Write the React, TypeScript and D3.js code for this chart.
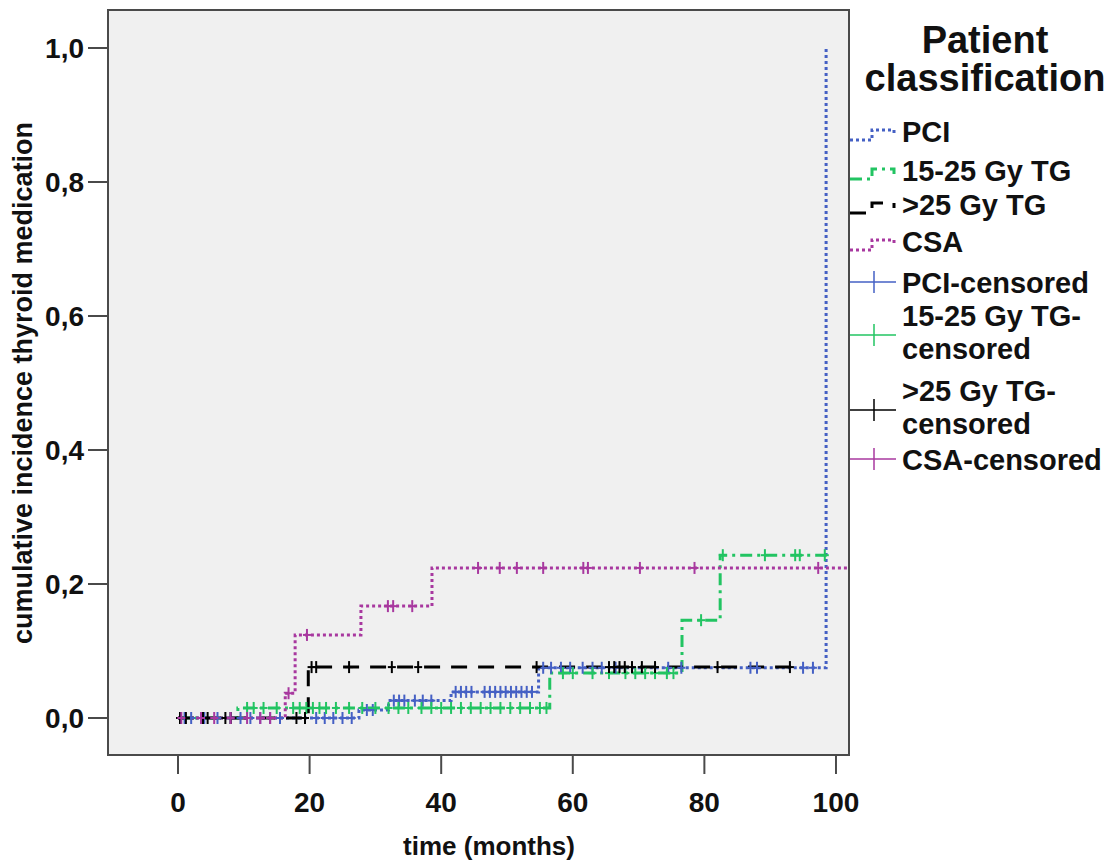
import React from 'react'
import * as d3 from 'd3'

// Kaplan-Meier style cumulative incidence
const seriesNames = ['PCI', '15-25 Gy TG', '>25 Gy TG', 'CSA']

const pciStepTimes = [0, 27.5, 32, 41.5, 54.8, 98.5]
const pciStepValues = [0, 0.012, 0.026, 0.039, 0.075, 1.0]
const pciEnd = 98.5
const pciCensored = [1, 2, 4, 6, 8, 9.5, 11, 12.5, 14, 15.5, 21, 22.3, 23.6, 25, 26.4, 28.7, 29.6, 32.8, 33.6, 34.4, 36, 37.2, 38.5, 42.2, 43, 43.8, 44.6, 46.6, 47.4, 48.2, 49, 49.8, 50.6, 51.4, 52.2, 53, 53.8, 55.5, 56.7, 58.2, 59.6, 61.5, 63, 64.4, 66.5, 74.5, 76.5, 87, 88, 95, 96.5]

const tgLowStepTimes = [0, 9.1, 56.5, 76.6, 82.4]
const tgLowStepValues = [0, 0.015, 0.067, 0.146, 0.243]
const tgLowEnd = 98.6
const tgLowCensored = [10.5, 11.5, 13, 15, 17.5, 18.5, 19.5, 20.5, 21.5, 22.5, 24, 26, 28, 30, 32, 33.5, 35, 37, 38.5, 40, 41.5, 43, 44.5, 46, 47.5, 49, 50.5, 52, 53.5, 55, 56, 58.5, 60, 63, 65.5, 68, 69.5, 71, 72.5, 74.3, 75.3, 79.5, 82.8, 89.2, 93.8, 94.5, 98.3]

const tgHighStepTimes = [0, 19.8]
const tgHighStepValues = [0, 0.076]
const tgHighEnd = 94
const tgHighCensored = [0.3, 1.2, 3.8, 4.5, 7.2, 8, 18, 19.3, 20.3, 21, 26, 32.5, 36.5, 54.5, 65.5, 66.3, 67.1, 67.9, 69, 70.5, 72.5, 82, 93]

const csaStepTimes = [0, 16.3, 17.8, 27.8, 38.6]
const csaStepValues = [0, 0.037, 0.124, 0.167, 0.224]
const csaEnd = 102
const csaCensored = [0.5, 3.5, 5.5, 8, 10.5, 12.5, 14, 16.8, 19.6, 31.9, 32.7, 35.6, 45.6, 48.9, 51.5, 55.5, 61.6, 62.3, 70.2, 78.5, 97.3]

const xTicks = [0, 20, 40, 60, 80, 100]
const yTicks = [0, 0.2, 0.4, 0.6, 0.8, 1.0]

const colors = ['#4560c4', '#22c462', '#000000', '#a8389f']
const dashes = ['3,3', '12,5,3,5', '16,11', '3,3']

const series = [
  { times: pciStepTimes, values: pciStepValues, end: pciEnd, censored: pciCensored },
  { times: tgLowStepTimes, values: tgLowStepValues, end: tgLowEnd, censored: tgLowCensored },
  { times: tgHighStepTimes, values: tgHighStepValues, end: tgHighEnd, censored: tgHighCensored },
  { times: csaStepTimes, values: csaStepValues, end: csaEnd, censored: csaCensored },
]

const W = 1115
const H = 861
const frame = { left: 108, right: 849, top: 10, bottom: 755 }
const FONT = 'Arial, "Liberation Sans", sans-serif'

function levelAt(times: number[], values: number[], t: number) {
  let v = values[0]
  for (let i = 0; i < times.length; i++) {
    if (times[i] <= t) v = values[i]
  }
  return v
}

export default function App() {
  const x = d3.scaleLinear().domain([-10.64, 101.98]).range([frame.left, frame.right])
  const y = d3.scaleLinear().domain([-0.0552, 1.0567]).range([frame.bottom, frame.top])

  const line = d3.line<[number, number]>()
    .x(d => x(d[0]))
    .y(d => y(d[1]))
    .curve(d3.curveStepAfter)

  const fmt = (v: number) => d3.format('.1f')(v).replace('.', ',')

  // legend rows
  const legendX = 850
  const stepRows = [142, 181, 215, 252]
  const censRows = [
    { label: ['PCI-censored'], base: 293 },
    { label: ['15-25 Gy TG-', 'censored'], base: 326 },
    { label: ['>25 Gy TG-', 'censored'], base: 401 },
    { label: ['CSA-censored'], base: 470 },
  ]

  return (
    <div style={{ position: 'absolute', left: 0, top: 0 }}>
      <svg width={W} height={H} style={{ display: 'block', background: '#ffffff' }}>
        <defs>
          <clipPath id="plotClip">
            <rect x={frame.left} y={frame.top} width={frame.right - frame.left} height={frame.bottom - frame.top} />
          </clipPath>
        </defs>
        <rect x={frame.left} y={frame.top} width={frame.right - frame.left} height={frame.bottom - frame.top} fill="#f0f0f0" />

        <g clipPath="url(#plotClip)">
          {series.map((s, i) => {
            const pts: [number, number][] = s.times.map((t, j) => [t, s.values[j]])
            pts.push([s.end, s.values[s.values.length - 1]])
            return (
              <path key={'l' + i} d={line(pts) || ''} fill="none" stroke={colors[i]}
                strokeWidth={3} strokeDasharray={dashes[i]} />
            )
          })}
          {series.map((s, i) => (
            <g key={'c' + i} stroke={colors[i]} strokeWidth={2}>
              {s.censored.map((t, j) => {
                const cx = x(t)
                const cy = y(levelAt(s.times, s.values, t))
                return (
                  <g key={j}>
                    <line x1={cx} x2={cx} y1={cy - 6} y2={cy + 6} />
                    <line x1={cx - 4} x2={cx + 4} y1={cy} y2={cy} />
                  </g>
                )
              })}
            </g>
          ))}
        </g>

        <rect x={frame.left} y={frame.top} width={frame.right - frame.left} height={frame.bottom - frame.top}
          fill="none" stroke="#4a4a4a" strokeWidth={2} />

        {/* y axis */}
        {yTicks.map(t => (
          <g key={'y' + t}>
            <line x1={88} x2={frame.left} y1={y(t)} y2={y(t)} stroke="#4a4a4a" strokeWidth={2} />
            <text x={84} y={y(t)} dy="0.36em" textAnchor="end" fontFamily={FONT} fontWeight="bold"
              fontSize={28} fill="#111">{fmt(t)}</text>
          </g>
        ))}
        {/* x axis */}
        {xTicks.map(t => (
          <g key={'x' + t}>
            <line x1={x(t)} x2={x(t)} y1={frame.bottom} y2={frame.bottom + 19} stroke="#4a4a4a" strokeWidth={2} />
            <text x={x(t)} y={812} textAnchor="middle" fontFamily={FONT} fontWeight="bold"
              fontSize={28} fill="#111">{t}</text>
          </g>
        ))}

        <text x={489} y={855} textAnchor="middle" fontFamily={FONT} fontWeight="bold" fontSize={26} fill="#111">
          time (months)
        </text>
        <text transform={`translate(32, ${(y(0) + y(1)) / 2}) rotate(-90)`} textAnchor="middle"
          fontFamily={FONT} fontWeight="bold" fontSize={27} fill="#111">
          cumulative incidence thyroid medication
        </text>

        {/* legend */}
        <text x={985} y={53} textAnchor="middle" fontFamily={FONT} fontWeight="bold" fontSize={38} fill="#111">Patient</text>
        <text x={985} y={91} textAnchor="middle" fontFamily={FONT} fontWeight="bold" fontSize={38} fill="#111">classification</text>

        {seriesNames.map((name, i) => {
          const b = stepRows[i] - 8
          return (
            <g key={'ls' + i}>
              <path d={`M${legendX},${b + 6} H${legendX + 22} V${b - 4} H${legendX + 44} V${b + 1}`}
                fill="none" stroke={colors[i]} strokeWidth={3} strokeDasharray={dashes[i]} />
              <text x={902} y={stepRows[i]} fontFamily={FONT} fontWeight="bold" fontSize={29} fill="#111">{name}</text>
            </g>
          )
        })}
        {censRows.map((r, i) => {
          const cy = r.label.length > 1 ? r.base + 9 : r.base - 11
          return (
            <g key={'lc' + i}>
              <line x1={legendX} x2={legendX + 46} y1={cy} y2={cy} stroke={colors[i]} strokeWidth={1.5} />
              <line x1={legendX + 24} x2={legendX + 24} y1={cy - 11} y2={cy + 11} stroke={colors[i]} strokeWidth={1.5} />
              {r.label.map((l, k) => (
                <text key={k} x={902} y={r.base + k * 33} fontFamily={FONT} fontWeight="bold" fontSize={29} fill="#111">{l}</text>
              ))}
            </g>
          )
        })}
      </svg>
    </div>
  )
}
